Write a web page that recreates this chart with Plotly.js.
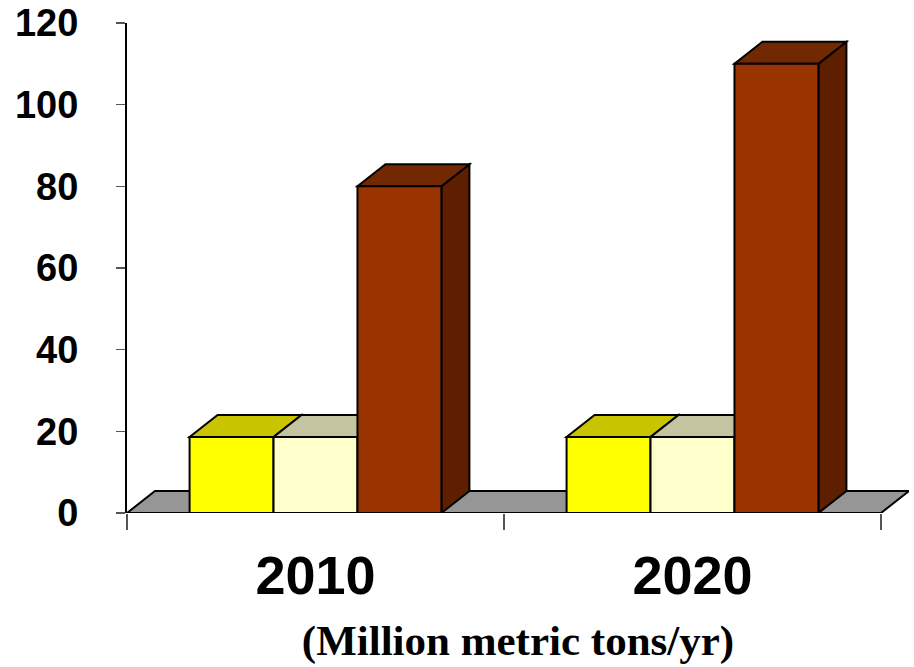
<!DOCTYPE html>
<html>
<head>
<meta charset="utf-8">
<script src="https://cdn.plot.ly/plotly-3.0.1.min.js"></script>
<style>html,body{margin:0;padding:0;background:#fff;}#chart{width:914px;height:667px;}</style>
</head>
<body>
<div id="chart"></div>
<script>
// ---- data ----
var categories = ['2010', '2020'];
var seriesA = [18.6, 18.6];
var seriesB = [18.6, 18.6];
var seriesC = [80, 110];
var yTickVals = [0, 20, 40, 60, 80, 100, 120];
var axisTitle = '(Million metric tons/yr)';

// ---- style ----
var W = 914, H = 667;
var M = {l: 127, r: 5, t: 23, b: 154};
var depthPx = {x: 28, y: 22};
var frontColors = ['#FFFF00', '#FFFFCC', '#993300'];
var topColors = ['#C8C400', '#C4C4A0', '#722800'];
var sideColors = ['#B0AC00', '#B0B090', '#5E1E00'];
var bargap = 0.332;
var yMax = 120;

var series = [seriesA, seriesB, seriesC];
var plotW = W - M.l - M.r, plotH = H - M.t - M.b;
var unitX = (plotW - depthPx.x) / categories.length;
var dX = depthPx.x / unitX;
var dY = depthPx.y / (plotH / yMax);

var traces = series.map(function (vals, i) {
  return {
    type: 'bar', x: categories, y: vals,
    marker: {color: frontColors[i], line: {color: '#000', width: 2}},
    hoverinfo: 'x+y', showlegend: false
  };
});

var shapes = [];
// floor
shapes.push({
  type: 'path', xref: 'x', yref: 'y', layer: 'below',
  path: 'M -0.5,0 L ' + (categories.length - 0.5) + ',0 L ' + (categories.length - 0.5 + dX) + ',' + dY +
        ' L ' + (-0.5 + dX) + ',' + dY + ' Z',
  fillcolor: '#969696', line: {color: '#000', width: 2}
});
var groupW = 1 - bargap, barW = groupW / series.length;
categories.forEach(function (c, ci) {
  series.forEach(function (vals, si) {
    var v = vals[ci];
    var xl = ci - groupW / 2 + si * barW, xr = xl + barW;
    shapes.push({
      type: 'path', xref: 'x', yref: 'y', layer: 'below',
      path: 'M ' + xr + ',0 L ' + xr + ',' + v + ' L ' + (xr + dX) + ',' + (v + dY) + ' L ' + (xr + dX) + ',' + dY + ' Z',
      fillcolor: sideColors[si], line: {color: '#000', width: 2}
    });
    shapes.push({
      type: 'path', xref: 'x', yref: 'y', layer: 'below',
      path: 'M ' + xl + ',' + v + ' L ' + xr + ',' + v + ' L ' + (xr + dX) + ',' + (v + dY) + ' L ' + (xl + dX) + ',' + (v + dY) + ' Z',
      fillcolor: topColors[si], line: {color: '#000', width: 2}
    });
  });
});

var layout = {
  width: W, height: H, margin: M,
  paper_bgcolor: '#fff', plot_bgcolor: 'rgba(0,0,0,0)',
  barmode: 'group', bargap: bargap, bargroupgap: 0,
  showlegend: false,
  font: {family: 'Liberation Sans, Arial, sans-serif', color: '#000'},
  xaxis: {
    type: 'category', range: [-0.5, categories.length - 0.5 + dX],
    tickson: 'boundaries', ticks: 'outside', ticklen: 16, tickwidth: 1.5, tickcolor: '#555',
    showline: false, showgrid: false, zeroline: false,
    ticklabelstandoff: 26,
    tickfont: {size: 54, family: 'Liberation Sans, Arial, sans-serif', weight: 'bold'},
    title: {text: axisTitle, standoff: 20,
            font: {size: 43, family: 'Liberation Serif, Times New Roman, serif', weight: 'bold'}}
  },
  yaxis: {
    range: [0, yMax], tickvals: yTickVals, ticks: 'outside', ticklen: 9, tickwidth: 1.5, tickcolor: '#555',
    showline: true, linecolor: '#000', linewidth: 2, showgrid: false, zeroline: false,
    ticklabelstandoff: 30,
    tickfont: {size: 38, family: 'Liberation Sans, Arial, sans-serif', weight: 'bold'}
  },
  shapes: shapes
};

Plotly.newPlot('chart', traces, layout, {displayModeBar: false, staticPlot: true});
</script>
</body>
</html>
